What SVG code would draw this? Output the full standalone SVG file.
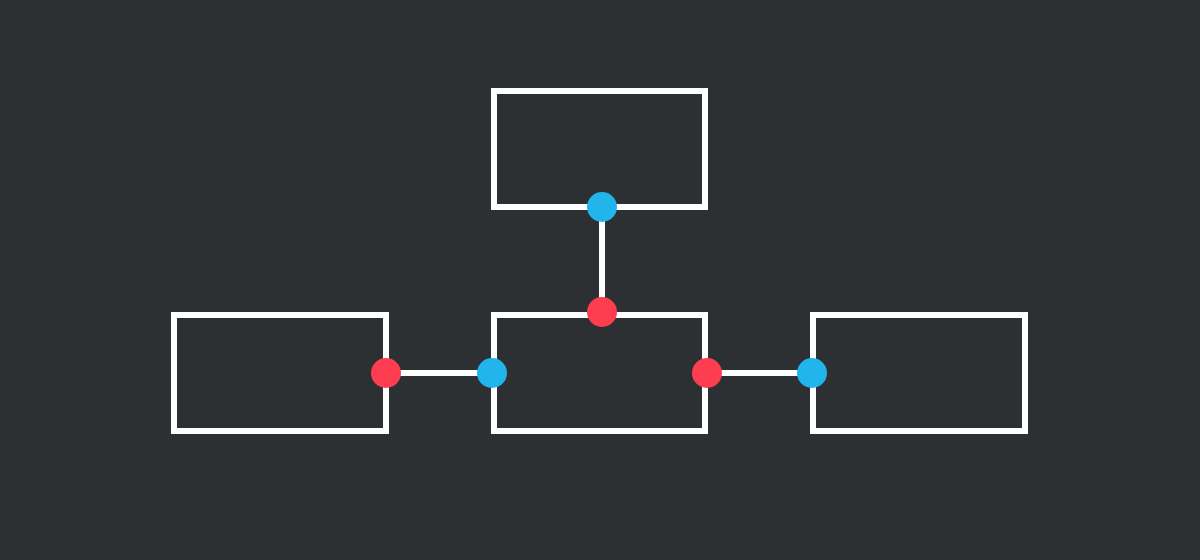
<svg xmlns="http://www.w3.org/2000/svg" width="1200" height="560" viewBox="0 0 1200 560">
<style>
.box{fill:none;stroke:#ffffff;stroke-width:6}
.wire{stroke:#ffffff;stroke-width:6;fill:none}
.out{fill:#ff3d51}
.in{fill:#22b5ec}
</style>
<rect width="1200" height="560" fill="#2d3033"/>
<g id="connectors">
<line class="wire" x1="602" y1="207" x2="602" y2="312"/>
<line class="wire" x1="386" y1="373" x2="492" y2="373"/>
<line class="wire" x1="707" y1="373" x2="812" y2="373"/>
</g>
<g id="node-top">
<rect class="box" x="494" y="91" width="211" height="116"/>
<circle class="in" cx="602" cy="207" r="15"/>
</g>
<g id="node-left">
<rect class="box" x="174" y="315" width="212" height="116"/>
<circle class="out" cx="386" cy="373" r="15"/>
</g>
<g id="node-center">
<rect class="box" x="494" y="315" width="211" height="116"/>
<circle class="out" cx="602" cy="312" r="15"/>
<circle class="in" cx="492" cy="373" r="15"/>
<circle class="out" cx="707" cy="373" r="15"/>
</g>
<g id="node-right">
<rect class="box" x="813" y="315" width="212" height="116"/>
<circle class="in" cx="812" cy="373" r="15"/>
</g>
</svg>
